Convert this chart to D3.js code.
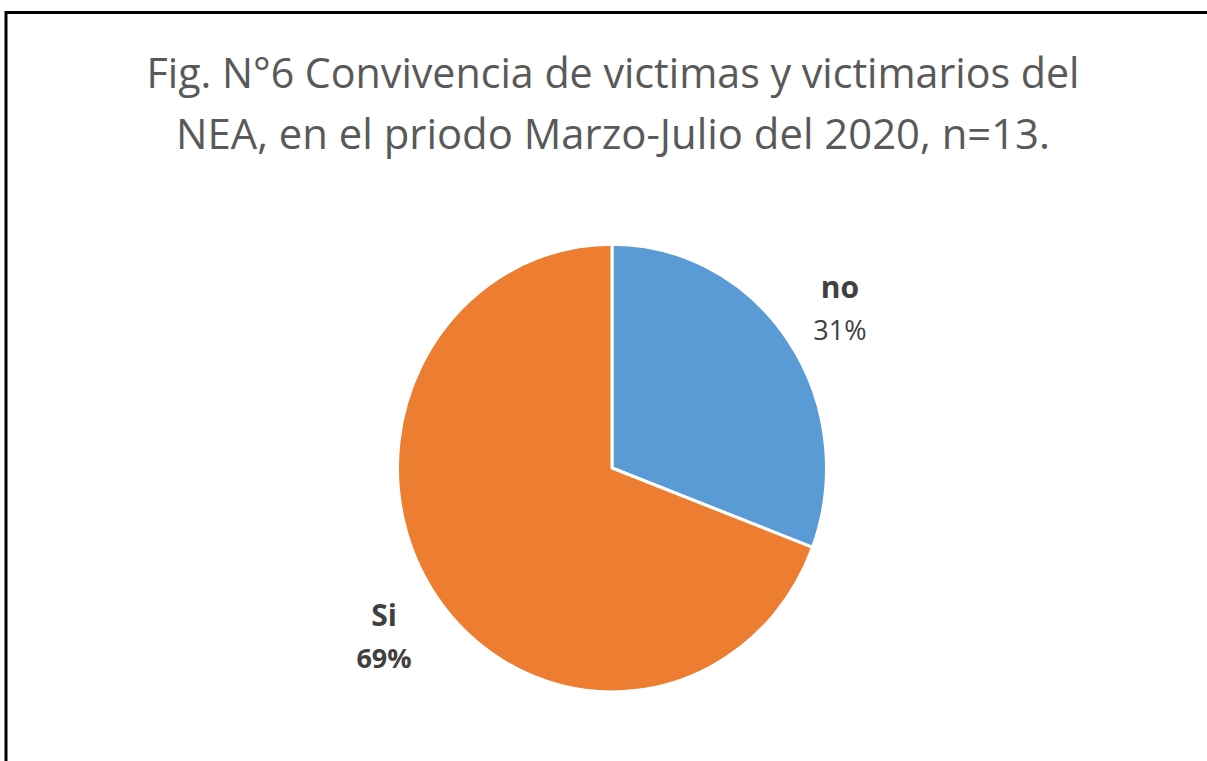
<!DOCTYPE html>
<html>
  <head>
    <meta charset="utf-8">
    <title>Fig 6</title>
    <script src="https://d3js.org/d3.v7.min.js"></script>
    <style>
      body { margin: 0; background: #fff; }
      svg { display: block; }
      .title { font-family: 'Open Sans', sans-serif; fill: #595959; }
      .lbl { font-family: 'Open Sans', sans-serif; fill: #404040; }
    </style>
  </head>
  <body>
    <svg id="svg"></svg>
    <script type="text/javascript">
// data
var categories = ["no", "Si"];
var counts = [4, 9];
var percentLabels = ["31%", "69%"];
var colors = ["#5B9BD5", "#ED7D31"];
var titleLines = ["Fig. N°6 Convivencia de victimas y victimarios del",
                  "NEA, en el priodo Marzo-Julio del 2020, n=13."];

var width = 1207, height = 761;
var svg = d3.select('#svg').attr('width', width).attr('height', height);

// frame (only top and left visible in the picture)
svg.append('rect')
  .attr('x', 6).attr('y', 12.5)
  .attr('width', 1240).attr('height', 800)
  .attr('fill', 'none')
  .attr('stroke', '#000')
  .attr('stroke-width', 3);

// title
var titleWidths = [933, 874];
svg.selectAll('text.title')
  .data(titleLines)
  .enter()
  .append('text')
  .attr('class', 'title')
  .attr('x', 613)
  .attr('y', function(d, i) { return 88 + i * 61; })
  .attr('text-anchor', 'middle')
  .attr('font-size', 42)
  .attr('textLength', function(d, i) { return titleWidths[i]; })
  .attr('lengthAdjust', 'spacingAndGlyphs')
  .text(function(d) { return d; });

// pie, picture is slightly stretched vertically
var r = 214.5;
var g = svg.append('g').attr('transform', 'translate(612,468) scale(1,1.044)');

var pie = d3.pie().sort(null).value(function(d) { return d; });
var arcs = pie(counts);
var arc = d3.arc().innerRadius(0).outerRadius(r);
var labelArc = d3.arc().innerRadius(277).outerRadius(277);

g.selectAll('path')
  .data(arcs)
  .enter()
  .append('path')
  .attr('d', arc)
  .attr('fill', function(d, i) { return colors[i]; })
  .attr('stroke', '#fff')
  .attr('stroke-width', 3)
  .attr('stroke-linejoin', 'round');

// labels
arcs.forEach(function(a, i) {
  var c = labelArc.centroid(a);
  var x = 612 + c[0], y = 468 + c[1] * 1.044;
  svg.append('text')
    .attr('class', 'lbl')
    .attr('x', x).attr('y', y - 6)
    .attr('text-anchor', 'middle')
    .attr('font-size', 30)
    .attr('font-weight', 'bold')
    .text(categories[i]);
  svg.append('text')
    .attr('class', 'lbl')
    .attr('x', x).attr('y', y + 36)
    .attr('text-anchor', 'middle')
    .attr('font-size', 27)
    .attr('font-weight', i == 1 ? 'bold' : 'normal')
    .text(percentLabels[i]);
});
    </script>
  </body>
</html>
